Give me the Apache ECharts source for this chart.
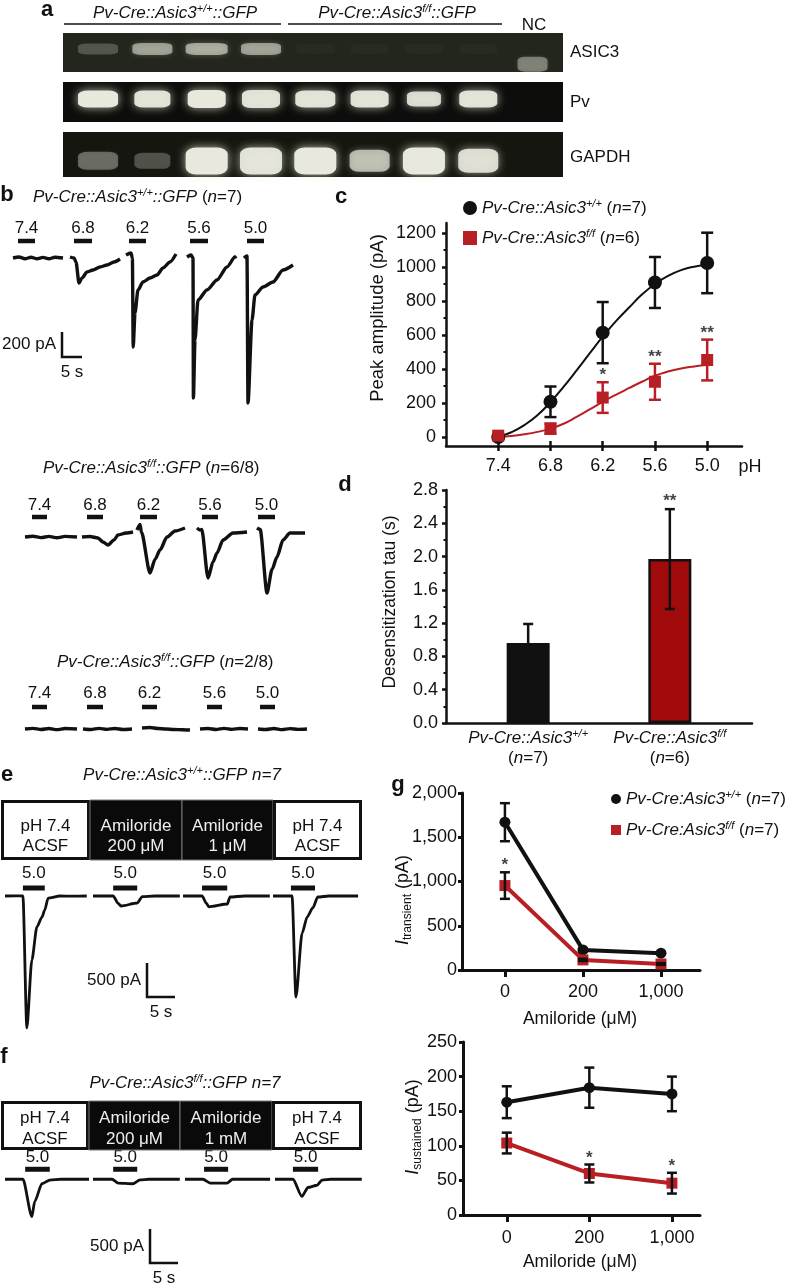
<!DOCTYPE html>
<html><head><meta charset="utf-8">
<script src="https://cdn.jsdelivr.net/npm/echarts@6/dist/echarts.min.js"></script>
<style>html,body{margin:0;padding:0;background:#fff}#c{width:788px;height:1286px}</style>
</head><body><div id="c"></div>
<script>
// ================= DATA =================
// panel a: band intensity per lane (8 lanes + NC)
const gelLanes = [0,1,2,3,4,5,6,7,8];
const asic3Intensity = [0.22,0.55,0.6,0.55,0.03,0.03,0.03,0.03,0.4];
const pvIntensity    = [1,0.95,1,0.95,0.95,0.95,0.9,0.95,0];
const gapdhIntensity = [0.35,0.25,1,0.95,1,0.7,1,0.9,0];

// panel b traces: [time (s), current (pA)]
const phLabels = ['7.4','6.8','6.2','5.6','5.0'];
const b1Traces = [
  [[0,0],[1.5,8],[3,-6],[4.5,6],[6,-6],[7.5,5],[9,-6],[10.5,6],[12.5,0]],
  [[0,8],[1,0],[1.5,-32],[2.25,-200],[3,-160],[4.25,-112],[5.75,-96],[7.5,-72],[9.25,-56],[11,-32],[12.5,-8]],
  [[0,24],[1.25,40],[1.6,0],[1.8,-712],[2.25,-440],[3,-256],[4.25,-192],[6,-160],[7.75,-136],[9.25,-80],[11,-32],[12.5,32]],
  [[0,8],[1,24],[1.5,0],[1.6,-1120],[2,-656],[2.75,-336],[5,-256],[7.5,-176],[10,-72],[12,8],[12.3,16]],
  [[0,0],[0.75,16],[1,-1160],[2,-496],[2.75,-296],[4.75,-232],[7.25,-192],[9.75,-96],[12.25,-56]]
];
const b1Stim = [[1.25,5.5],[1,5.5],[0.75,5],[0.75,5.25],[0.75,5]];
const b2Traces = [
  [[0,0],[2,6],[4,-5],[6,5],[8,-6],[10,5],[13,0]],
  [[0,0],[2,4],[4,-8],[5.25,-40],[6.5,-64],[8,-24],[9,16],[11,32],[12.75,40]],
  [[0,56],[0.75,100],[1.1,40],[3.25,-288],[4.5,-180],[5.75,-104],[7.5,0],[9.5,48],[12,72]],
  [[0,72],[0.75,56],[1.2,60],[2.75,-328],[4,-200],[5,-128],[6.5,-24],[9,32],[12.5,40]],
  [[0,72],[0.5,64],[0.8,60],[2.5,-448],[3.75,-260],[5,-160],[6.5,-24],[8.25,32],[12,32]]
];
const b2Stim = [[1.75,5.5],[1.25,5.25],[0.75,5],[1.25,5.25],[0.25,4.5]];
const b3Traces = [
  [[0,0],[2,5],[4,-4],[6,4],[8,-5],[10,4],[13,0]],
  [[0,0],[2,-4],[4,5],[6,-3],[8,4],[10,-4],[12.25,0]],
  [[0,8],[2,12],[4,4],[6,0],[8,-4],[10,-6],[12,-8]],
  [[0,0],[2,4],[4,-4],[6,5],[8,-3],[10,4],[12,0]],
  [[0,0],[2,-4],[4,4],[6,-5],[8,3],[10,-3],[12.25,0]]
];
const b3Stim = [[1.75,5.5],[1,5],[0,3.75],[1.75,5.5],[0.5,4.25]];
const scaleB = {current:200, time:5, currentLabel:'200 pA', timeLabel:'5 s'};

// panel c
const phC = [7.4,6.8,6.2,5.6,5.0];
const wtPeak = [0,207,614,909,1024];
const wtPeakErr = [0,90,180,150,178];
const koPeak = [8,49,232,325,453];
const koPeakErr = [10,30,90,106,120];
const sigC = ['','','*','**','**'];
const fitPH = [7.4,7.25,7.1,6.95,6.8,6.65,6.5,6.35,6.2,6.05,5.9,5.75,5.6,5.45,5.3,5.15,5.0];
const wtFit = [0,28,70,128,205,295,392,492,590,680,760,838,900,948,982,1002,1014];
const koFit = [0,6,16,30,49,78,118,162,207,248,287,325,360,385,403,415,423];
const peakTicks = [0,200,400,600,800,1000,1200];
const peakMinor = [100,300,500,700,900,1100];

// panel d
const tauGroups = [1,2];
const tauMean = [0.96,1.97];
const tauErrUp = [0.23,0.6];
const tauErrDown = [0,0.6];
const sigD = ['','**'];

// panels e, f
const eTraces = [
  [[0,0],[2,3],[3.2,0],[3.9,-1940],[4.8,-940],[5.7,-455],[6.6,-310],[7.1,-206],[7.7,-30],[9.8,0],[12,-3],[14.6,0]],
  [[0,0],[3.6,0],[4.5,-110],[5,-147],[7.9,-103],[8.8,-10],[11,0],[15.5,0]],
  [[0,0],[3.4,0],[4.2,-110],[4.6,-160],[7.9,-118],[8.4,-15],[11,0],[15.5,0]],
  [[0,0],[3.4,0],[4.1,-1485],[5.2,-545],[6.1,-310],[7.1,-176],[8,-15],[10,0],[15.2,0]]
];
const eStim = [[3.2,7.1],[3.6,7.9],[3.4,7.9],[3.2,7.5]];
const fTraces = [
  [[0,0],[3.2,0],[4.8,-735],[5.3,-440],[6.6,-88],[8,-15],[10,0],[15,0]],
  [[0,0],[3.4,0],[4.5,-74],[7.1,-88],[8.4,-10],[10,0],[15.5,0]],
  [[0,0],[3.2,0],[4.5,-74],[7.5,-74],[8.5,0],[15.2,0]],
  [[0,0],[3.2,0],[4.8,-338],[5.9,-162],[7.5,-118],[8.4,-15],[10,0],[15.5,0]]
];
const fStim = [[3.6,8],[3.6,7.9],[3.4,7.7],[3.2,7.7]];
const stimLabelsEF = ['5.0','5.0','5.0','5.0'];
const scaleEF = {current:500, time:5, currentLabel:'500 pA', timeLabel:'5 s'};
const boxesE = [['pH 7.4','ACSF'],['Amiloride','200 μM'],['Amiloride','1 μM'],['pH 7.4','ACSF']];
const boxesF = [['pH 7.4','ACSF'],['Amiloride','200 μM'],['Amiloride','1 mM'],['pH 7.4','ACSF']];
const boxDark = [false,true,true,false];

// panel g
const amilorideX = [0,1,2];
const amilorideLabels = ['0','200','1,000'];
const wtTransient = [1670,227,190];
const wtTransientErr = [215,15,12];
const koTransient = [954,114,68];
const koTransientErr = [150,12,10];
const sigG1 = ['*','',''];
const wtSustained = [163,184,175];
const wtSustainedErr = [23,29,25];
const koSustained = [104,60,46];
const koSustainedErr = [15,13,15];
const sigG2 = ['','*','*'];

// ================= LAYOUT / STYLE =================
const FONT = '"Liberation Sans", Arial, Helvetica, sans-serif';
const INK = '#111';
const RED = '#b81f24';
const DARKRED = '#a20b0b';

function richDefs(size, supSize, color){
  const base = {fontFamily:FONT, fontSize:size, lineHeight:Math.round(size*1.2), color:color, fill:color};
  return {
    it: Object.assign({}, base, {fontStyle:'italic'}),
    up: Object.assign({}, base),
    bd: Object.assign({}, base, {fontWeight:'bold'}),
    sup:{fontFamily:FONT, fontSize:supSize, fontStyle:'italic', lineHeight:Math.round(supSize*0.7), verticalAlign:'top', color:color, fill:color},
    sub:{fontFamily:FONT, fontSize:supSize, lineHeight:Math.round(supSize*0.7), verticalAlign:'bottom', color:color, fill:color}
  };
}
const graphics = [];
function txt(text, x, y, align, size, opt){
  opt = opt || {};
  const color = opt.color || INK;
  graphics.push({type:'text', x:x, y:y, rotation:opt.rot||0, z:100, silent:true,
    style:{text:text, rich:richDefs(size, opt.sup||Math.round(size*0.66), color),
      align:align, textAlign:align, verticalAlign:'middle', textVerticalAlign:'middle',
      fontSize:size, fontFamily:FONT, fontWeight:opt.bold?'bold':'normal', fontStyle:opt.italic?'italic':'normal', fill:color}});
}
function gline(x1,y1,x2,y2,w,c){ graphics.push({type:'line', z:100, silent:true, shape:{x1,y1,x2,y2}, style:{stroke:c||INK, lineWidth:w}}); }
function grect(x,y,w,h,fill,stroke,lw){ graphics.push({type:'rect', z:90, silent:true, shape:{x,y,width:w,height:h}, style:{fill:fill, stroke:stroke, lineWidth:lw}}); }

const grids=[], xAxes=[], yAxes=[], series=[], legends=[];
function addGrid(g, xs, ys){
  const gi = grids.length;
  grids.push(Object.assign({containLabel:false, show:false, borderWidth:0}, g));
  const xi=[], yi=[];
  (Array.isArray(xs)?xs:[xs]).forEach(a=>{ xi.push(xAxes.length); xAxes.push(Object.assign({gridIndex:gi}, a)); });
  (Array.isArray(ys)?ys:[ys]).forEach(a=>{ yi.push(yAxes.length); yAxes.push(Object.assign({gridIndex:gi}, a)); });
  return {gi, xi, yi};
}
const hidden = (min,max)=>({type:'value', show:false, min:min, max:max, splitLine:{show:false}});

// ---------- panel a: gels ----------
const gelLayout = [
  {top:33, height:39, bg:'#23261c', inten:asic3Intensity, y:[0.59,0.59,0.59,0.59,0.59,0.59,0.59,0.59,0.2],
   size:[[40,11],[40,12],[42,12],[40,12],[38,10],[38,10],[38,10],[38,10],[30,15]]},
  {top:82, height:40, bg:'#0d0e0b', inten:pvIntensity, y:[0.575,0.575,0.575,0.575,0.575,0.575,0.575,0.575,0.575],
   size:[[40,17],[36,17],[38,18],[38,18],[40,17],[38,17],[34,15],[38,17],[10,10]]},
  {top:132, height:45, bg:'#15160f', inten:gapdhIntensity, y:[0.36,0.36,0.355,0.355,0.355,0.36,0.355,0.36,0.36],
   size:[[40,18],[36,16],[42,27],[42,27],[42,27],[40,22],[42,27],[40,24],[10,10]]}
];
gelLayout.forEach(g=>{
  const ax = addGrid({left:63, top:g.top, width:500, height:g.height, show:true, backgroundColor:g.bg}, hidden(-0.645,8.56), hidden(0,1));
  series.push({type:'scatter', xAxisIndex:ax.xi[0], yAxisIndex:ax.yi[0], symbol:'roundRect', silent:true, z:3,
    data: gelLanes.map((l,i)=>({value:[l, g.y[i]], symbolSize:g.size[i],
      itemStyle:{opacity:1, color:`rgba(232,232,220,${g.inten[i]})`, shadowBlur:10*g.inten[i], shadowColor:`rgba(225,228,210,${0.8*g.inten[i]})`}}))});
});
txt('{bd|a}', 47, 10, 'center', 22);
txt('{it|Pv-Cre::Asic3}{sup|+/+}{it|::GFP}', 175, 13, 'center', 17);
txt('{it|Pv-Cre::Asic3}{sup|f/f}{it|::GFP}', 397, 13, 'center', 17);
gline(64,24,281,24,1.6); gline(288,24,502,24,1.6);
txt('NC', 534, 25, 'center', 17);
txt('ASIC3', 570, 52, 'left', 17);
txt('Pv', 570, 102, 'left', 17);
txt('GAPDH', 570, 157, 'left', 17);

// ---------- trace rows ----------
function addTraceRow(row){
  row.traces.forEach((tr,i)=>{
    const dur = tr[tr.length-1][0];
    const ax = addGrid({left:row.x0[i], top:row.yb-row.yMax*row.pxA, width:dur*row.pxS, height:(row.yMax-row.yMin)*row.pxA},
      hidden(0,dur), hidden(row.yMin,row.yMax));
    series.push({type:'line', xAxisIndex:ax.xi[0], yAxisIndex:ax.yi[0], data:tr, symbol:'none', silent:true,
      smooth:0.25, smoothMonotone:'x', lineStyle:{color:INK, width:row.lw}, z:3});
    const label = row.labels[i];
    series.push({type:'custom', xAxisIndex:ax.xi[0], yAxisIndex:ax.yi[0], silent:true, z:4, data:[row.stim[i]],
      renderItem:(p, api)=>{
        const p0 = api.coord([api.value(0),0]), p1 = api.coord([api.value(1),0]);
        return {type:'group', children:[
          {type:'rect', shape:{x:p0[0], y:p0[1]-row.barOff-row.barH/2, width:p1[0]-p0[0], height:row.barH}, style:{fill:INK}},
          {type:'text', x:(p0[0]+p1[0])/2, y:p0[1]-row.labOff, style:{text:label, fontSize:17, fontFamily:FONT, fill:INK, align:'center', verticalAlign:'middle'}}
        ]};
      }});
  });
}
function addScaleBar(sb, cx, cy, pxS, pxA, lw){
  const ax = addGrid({left:cx, top:cy-sb.current*pxA, width:sb.time*pxS, height:sb.current*pxA},
    hidden(0,sb.time), hidden(0,sb.current));
  series.push({type:'custom', xAxisIndex:ax.xi[0], yAxisIndex:ax.yi[0], silent:true, z:4, data:[[0,0,sb.time,sb.current]],
    renderItem:(p, api)=>{
      const c0 = api.coord([0,0]), ct = api.coord([0,api.value(3)]), cr = api.coord([api.value(2),0]);
      return {type:'group', children:[
        {type:'polyline', shape:{points:[ct,c0,cr]}, style:{stroke:INK, lineWidth:lw, fill:null}},
        {type:'text', x:c0[0]-6, y:(ct[1]+c0[1])/2, style:{text:sb.currentLabel, fontSize:17, fontFamily:FONT, fill:INK, align:'right', verticalAlign:'middle'}},
        {type:'text', x:(c0[0]+cr[0])/2, y:c0[1]+15, style:{text:sb.timeLabel, fontSize:17, fontFamily:FONT, fill:INK, align:'center', verticalAlign:'middle'}}
      ]};
    }});
}
const rowB = {pxS:4, pxA:0.125, yMin:-1300, yMax:350, lw:3.4, barH:4.5, labels:phLabels};
addTraceRow(Object.assign({}, rowB, {traces:b1Traces, stim:b1Stim, x0:[13,70,126,187,244], yb:258, barOff:17, labOff:30}));
addTraceRow(Object.assign({}, rowB, {traces:b2Traces, stim:b2Stim, x0:[25,82,137,197,257], yb:537, barOff:20, labOff:32}));
addTraceRow(Object.assign({}, rowB, {traces:b3Traces, stim:b3Stim, x0:[25,83,142,200,258], yb:729, barOff:22, labOff:36}));
addScaleBar(scaleB, 62, 357, 4, 0.125, 2.5);
txt('{bd|b}', 7, 195, 'center', 22);
txt('{it|Pv-Cre::Asic3}{sup|+/+}{it|::GFP }{up|(}{it|n}{up|=7)}', 33, 197, 'left', 17);
txt('{it|Pv-Cre::Asic3}{sup|f/f}{it|::GFP }{up|(}{it|n}{up|=6/8)}', 43, 468, 'left', 17);
txt('{it|Pv-Cre::Asic3}{sup|f/f}{it|::GFP }{up|(}{it|n}{up|=2/8)}', 57, 662, 'left', 17);

const rowEF = {pxS:5.6, pxA:0.068, yMin:-2100, yMax:450, lw:2.8, barH:5, labels:stimLabelsEF};
addTraceRow(Object.assign({}, rowEF, {traces:eTraces, stim:eStim, x0:[5,93,183,273], yb:896, barOff:8, labOff:23}));
addTraceRow(Object.assign({}, rowEF, {traces:fTraces, stim:fStim, x0:[5,93,185,275], yb:1187, barOff:10, labOff:22}));
addScaleBar(scaleEF, 147, 997, 5.6, 0.068, 2.5);
addScaleBar(scaleEF, 150, 1263, 5.6, 0.068, 2.5);
txt('{bd|e}', 7, 775, 'center', 22);
txt('{bd|f}', 4, 1057, 'center', 22);
txt('{it|Pv-Cre::Asic3}{sup|+/+}{it|::GFP n=7}', 182, 775, 'center', 17);
txt('{it|Pv-Cre::Asic3}{sup|f/f}{it|::GFP n=7}', 185, 1083, 'center', 17);
function drawBoxes(labels, xs, top, bottom, l1, l2){
  labels.forEach((lab,i)=>{
    const x=xs[i], w=xs[i+1]-xs[i];
    if(boxDark[i]) grect(x, top, w, bottom-top, '#0a0a0a', '#777', 1);
    else grect(x+1.5, top+1.5, w-3, bottom-top-3, '#fff', INK, 3);
    const col = boxDark[i] ? '#eee' : INK;
    txt(lab[0], x+w/2, l1, 'center', 17, {color:col});
    txt(lab[1], x+w/2, l2, 'center', 17, {color:col});
  });
}
drawBoxes(boxesE, [1,90,182,273,362], 800, 860, 826, 846);
drawBoxes(boxesF, [1,89,180,272,362], 1101, 1150, 1118, 1139);

// ---------- error bar / star helpers ----------
function errRender(color, lw, cap){
  return (p, api)=>{
    const x=api.value(0), y=api.value(1), up=api.value(2), dn=api.value(3);
    const pt=api.coord([x,y+up]), pb=api.coord([x,y-dn]);
    const st={stroke:color, lineWidth:lw};
    const ch=[{type:'line', shape:{x1:pt[0],y1:pt[1],x2:pb[0],y2:pb[1]}, style:st}];
    if(up>0) ch.push({type:'line', shape:{x1:pt[0]-cap,y1:pt[1],x2:pt[0]+cap,y2:pt[1]}, style:st});
    if(dn>0) ch.push({type:'line', shape:{x1:pb[0]-cap,y1:pb[1],x2:pb[0]+cap,y2:pb[1]}, style:st});
    return {type:'group', children:ch};
  };
}
function starSeries(ax, pts, sig, dist){
  return {type:'scatter', xAxisIndex:ax.xi[0], yAxisIndex:ax.yi[0], symbolSize:0.1, itemStyle:{color:'rgba(0,0,0,0)'}, silent:true, z:6,
    data:pts, label:{show:true, position:'top', distance:dist, formatter:p=>sig[p.dataIndex], fontSize:17, fontWeight:'bold', fontFamily:FONT, color:INK}};
}
const axLine = w=>({show:true, onZero:false, lineStyle:{color:INK, width:w}});
const axTick = (w,len,extra)=>Object.assign({show:true, length:len, lineStyle:{color:INK, width:w}}, extra||{});
const axLab = (size, margin, extra)=>Object.assign({fontSize:size, color:INK, fontFamily:FONT, margin:margin}, extra||{});

// ---------- panel c ----------
const cRich = richDefs(17, 11, INK);
const legC = ['Pv-Cre::Asic3+/+ (n=7)','Pv-Cre::Asic3f/f (n=6)'];
const legCText = {'Pv-Cre::Asic3+/+ (n=7)':'{it|Pv-Cre::Asic3}{sup|+/+}{up| (}{it|n}{up|=7)}',
                  'Pv-Cre::Asic3f/f (n=6)':'{it|Pv-Cre::Asic3}{sup|f/f}{up| (}{it|n}{up|=6)}'};
const cAx = addGrid({left:446, top:223, width:296, height:223},
  [{type:'value', min:4.6, max:8.0, inverse:true, axisLine:axLine(2.5), axisTick:axTick(2.5,5,{customValues:phC}),
    axisLabel:axLab(18,11,{customValues:phC, formatter:v=>{const k=phC.findIndex(q=>Math.abs(q-v)<1e-6); return k>=0?phLabels[k]:'';}}), splitLine:{show:false}},
   {type:'value', min:4.6, max:8.0, inverse:true, position:'bottom', axisLine:{show:false,onZero:false}, axisTick:axTick(2.5,5,{customValues:phC, inside:true}), axisLabel:{show:false}, splitLine:{show:false}}],
  [{type:'value', min:-53, max:1259, axisLine:axLine(2.5), axisTick:axTick(2.5,4,{customValues:peakTicks}),
    axisLabel:axLab(18,10,{customValues:peakTicks, formatter:v=>String(Math.round(v))}), splitLine:{show:false}},
   {type:'value', min:-53, max:1259, position:'left', axisLine:{show:false,onZero:false}, axisTick:axTick(2,2.5,{customValues:peakMinor}), axisLabel:{show:false}, splitLine:{show:false}}]);
series.push({type:'line', name:'wtFit', xAxisIndex:cAx.xi[0], yAxisIndex:cAx.yi[0], data:fitPH.map((p,i)=>[p,wtFit[i]]), smooth:true, symbol:'none', silent:true, lineStyle:{color:INK, width:2}, z:2});
series.push({type:'line', name:'koFit', xAxisIndex:cAx.xi[0], yAxisIndex:cAx.yi[0], data:fitPH.map((p,i)=>[p,koFit[i]]), smooth:true, symbol:'none', silent:true, lineStyle:{color:RED, width:2}, z:2});
series.push({type:'custom', xAxisIndex:cAx.xi[0], yAxisIndex:cAx.yi[0], silent:true, z:3, renderItem:errRender(INK,2.5,6), data:phC.map((p,i)=>[p,wtPeak[i],wtPeakErr[i],wtPeakErr[i]])});
series.push({type:'custom', xAxisIndex:cAx.xi[0], yAxisIndex:cAx.yi[0], silent:true, z:3, renderItem:errRender(RED,2.5,6), data:phC.map((p,i)=>[p,koPeak[i],koPeakErr[i],koPeakErr[i]])});
series.push({type:'scatter', name:legC[0], xAxisIndex:cAx.xi[0], yAxisIndex:cAx.yi[0], symbol:'circle', symbolSize:14, itemStyle:{color:INK, opacity:1}, z:5, data:phC.map((p,i)=>[p,wtPeak[i]])});
series.push({type:'scatter', name:legC[1], xAxisIndex:cAx.xi[0], yAxisIndex:cAx.yi[0], symbol:'rect', symbolSize:12, itemStyle:{color:RED, opacity:1}, z:5, data:phC.map((p,i)=>[p,koPeak[i]])});
series.push(starSeries(cAx, phC.map((p,i)=>[p,koPeak[i]+koPeakErr[i]]), sigC, -2));
legends.push({orient:'vertical', left:458, top:193, itemGap:10, itemWidth:14, itemHeight:14, selectedMode:false,
  data:[{name:legC[0], icon:'circle'},{name:legC[1], icon:'rect'}], formatter:n=>legCText[n],
  textStyle:{fontSize:17, fontFamily:FONT, color:INK, lineHeight:20, rich:cRich}});
txt('{bd|c}', 341, 197, 'center', 22);
txt('Peak amplitude (pA)', 378, 318, 'center', 18.5, {rot:Math.PI/2});
txt('pH', 750, 467, 'center', 18);

// ---------- panel d ----------
const tauLabels = ['{it|Pv-Cre::Asic3}{sup|+/+}\n{up|(}{it|n}{up|=7)}','{it|Pv-Cre::Asic3}{sup|f/f}\n{up|(}{it|n}{up|=6)}'];
const tauColors = [INK, DARKRED];
const dAx = addGrid({left:446, top:490, width:306, height:233},
  {type:'value', min:0.42, max:2.58, axisLine:axLine(2.5), axisTick:{show:false},
   axisLabel:axLab(17,5,{customValues:tauGroups, formatter:v=>tauLabels[Math.round(v)-1]||'', rich:richDefs(17,11,INK), lineHeight:20}), splitLine:{show:false}},
  {type:'value', min:0, max:2.8, interval:0.4, axisLine:axLine(2.5), axisTick:axTick(2.5,4),
   minorTick:{show:true, splitNumber:2, length:2.5, lineStyle:{color:INK, width:2}},
   axisLabel:axLab(18,8,{formatter:v=>v.toFixed(1)}), splitLine:{show:false}, minorSplitLine:{show:false}});
series.push({type:'bar', xAxisIndex:dAx.xi[0], yAxisIndex:dAx.yi[0], barWidth:43, silent:true, z:2,
  data:tauGroups.map((g,i)=>({value:[g,tauMean[i]], itemStyle:{color:tauColors[i], borderColor:INK, borderWidth:2.5}}))});
series.push({type:'custom', xAxisIndex:dAx.xi[0], yAxisIndex:dAx.yi[0], silent:true, z:4, renderItem:errRender(INK,2.5,5),
  data:tauGroups.map((g,i)=>[g,tauMean[i],tauErrUp[i],tauErrDown[i]])});
series.push(starSeries(dAx, tauGroups.map((g,i)=>[g,tauMean[i]+tauErrUp[i]]), sigD, -1));
txt('{bd|d}', 345, 485, 'center', 22);
txt('Desensitization tau (s)', 390, 602, 'center', 17.5, {rot:Math.PI/2});

// ---------- panel g ----------
const legG = ['Pv-Cre:Asic3+/+ (n=7)','Pv-Cre:Asic3f/f (n=7)'];
const legGText = {'Pv-Cre:Asic3+/+ (n=7)':'{it|Pv-Cre:Asic3}{sup|+/+}{up| (}{it|n}{up|=7)}',
                  'Pv-Cre:Asic3f/f (n=7)':'{it|Pv-Cre:Asic3}{sup|f/f}{up| (}{it|n}{up|=7)}'};
const comma = v=>Number(v).toLocaleString('en-US');
function gPanel(box, xr, ymax, yint, wt, wtE, ko, koE, sig, ylm, xlm){
  const ax = addGrid(box,
    {type:'value', min:xr[0], max:xr[1], axisLine:axLine(3), axisTick:axTick(3,7,{customValues:amilorideX}),
     axisLabel:axLab(18,xlm,{customValues:amilorideX, formatter:v=>amilorideLabels[Math.round(v)]}), splitLine:{show:false}},
    {type:'value', min:0, max:ymax, interval:yint, axisLine:axLine(3), axisTick:axTick(3,4),
     axisLabel:axLab(18,ylm,{formatter:comma}), splitLine:{show:false}});
  series.push({type:'line', name:legG[0], xAxisIndex:ax.xi[0], yAxisIndex:ax.yi[0], data:amilorideX.map((x,i)=>[x,wt[i]]),
    symbol:'circle', symbolSize:11, lineStyle:{color:INK, width:4}, itemStyle:{color:INK, opacity:1}, z:3, silent:true});
  series.push({type:'line', name:legG[1], xAxisIndex:ax.xi[0], yAxisIndex:ax.yi[0], data:amilorideX.map((x,i)=>[x,ko[i]]),
    symbol:'rect', symbolSize:11, lineStyle:{color:RED, width:4}, itemStyle:{color:RED, opacity:1}, z:3, silent:true});
  series.push({type:'custom', xAxisIndex:ax.xi[0], yAxisIndex:ax.yi[0], silent:true, z:5, renderItem:errRender(INK,2.5,5),
    data:amilorideX.map((x,i)=>[x,wt[i],wtE[i],wtE[i]]).concat(amilorideX.map((x,i)=>[x,ko[i],koE[i],koE[i]]))});
  series.push(starSeries(ax, amilorideX.map((x,i)=>[x,ko[i]+koE[i]]), sig, -2));
}
gPanel({left:462, top:793, width:238, height:177}, [-0.55,2.5], 2000, 500, wtTransient, wtTransientErr, koTransient, koTransientErr, sigG1, 5, 13);
gPanel({left:463, top:1042, width:237, height:173}, [-0.53,2.34], 250, 50, wtSustained, wtSustainedErr, koSustained, koSustainedErr, sigG2, 6, 14);
legends.push({orient:'vertical', left:606, top:784, itemGap:11, itemWidth:10, itemHeight:10, selectedMode:false,
  data:[{name:legG[0], icon:'circle'},{name:legG[1], icon:'rect'}], formatter:n=>legGText[n],
  textStyle:{fontSize:17, fontFamily:FONT, color:INK, lineHeight:20, rich:richDefs(17,11,INK)}});
txt('{bd|g}', 398, 785, 'center', 22);
txt('{it|I}{sub|transient}{up| (pA)}', 403, 900, 'center', 18, {rot:Math.PI/2, sup:12});
txt('{it|I}{sub|sustained}{up| (pA)}', 413, 1127, 'center', 18, {rot:Math.PI/2, sup:12});
txt('Amiloride (μM)', 580, 1019, 'center', 17.5);
txt('Amiloride (μM)', 580, 1262, 'center', 17.5);

// ================= RENDER =================
const chart = echarts.init(document.getElementById('c'), null, {renderer:'canvas', width:788, height:1286});
chart.setOption({
  backgroundColor:'#fff', animation:false,
  textStyle:{fontFamily:FONT},
  grid:grids, xAxis:xAxes, yAxis:yAxes, series:series, legend:legends, graphic:{elements:graphics}
});
</script></body></html>
